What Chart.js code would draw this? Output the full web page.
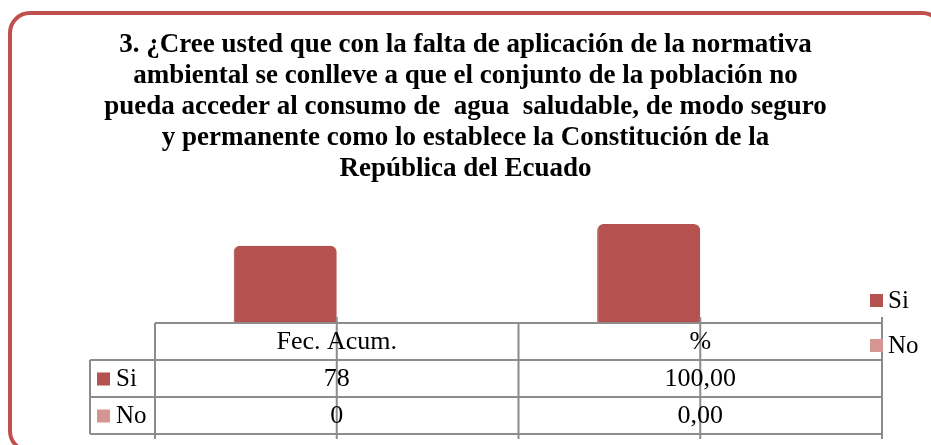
<!DOCTYPE html>
<html lang="es">
<head>
    <meta charset="UTF-8">
    <title>Gráfico 3</title>
    <script src="https://cdn.jsdelivr.net/npm/chart.js"></script>
    <style type="text/css">
        body{
            margin: 0;
            background: #fff;
        }
        .wrap{
            position: relative;
            width: 931px;
            height: 445px;
            overflow: hidden;
        }
        .frame{
            position: absolute;
            left: 8px;
            top: 11px;
            width: 936px;
            height: 442px;
            box-sizing: border-box;
            border: 4px solid #c0504d;
            border-radius: 22px;
            pointer-events: none;
        }
    </style>
</head>
<body>
    <div class="wrap">
        <canvas id="chart"></canvas>
        <div class="frame"></div>
    </div>

    <script>
        // datos de la pregunta 3
        const categories = ['Fec. Acum.', '%'];
        const seriesNames = ['Si', 'No'];
        const siValues = [78, 100];
        const noValues = [0, 0];
        const decimals = [0, 2]; // como aparece en la tabla
        const titleLines = [
            '3. ¿Cree usted que con la falta de aplicación de la normativa',
            'ambiental se conlleve a que el conjunto de la población no',
            'pueda acceder al consumo de  agua  saludable, de modo seguro',
            'y permanente como lo establece la Constitución de la',
            'República del Ecuado'
        ];
        const colors = ['#b5514e', '#d49593'];

        function fmt(v, d) {
            return v.toFixed(d).replace('.', ',');
        }

        const serif = 'Liberation Serif, Times New Roman, serif';

        // tabla de datos y leyenda dibujadas debajo del eje x
        const tablePlugin = {
            id: 'dataTable',
            afterDraw(chart) {
                const ctx = chart.ctx;
                const area = chart.chartArea;
                const x = chart.scales.x;
                const top = area.bottom;
                const rowH = 37;
                const labelLeft = 90;
                const bottom = top + rowH * 3;
                const rows = [siValues, noValues];

                ctx.save();
                ctx.strokeStyle = '#8c8c8c';
                ctx.lineWidth = 2;
                ctx.beginPath();
                ctx.moveTo(area.left, top);
                ctx.lineTo(area.right, top);
                for (let r = 1; r <= 3; r++) {
                    ctx.moveTo(labelLeft, top + rowH * r);
                    ctx.lineTo(area.right, top + rowH * r);
                }
                ctx.moveTo(labelLeft, top + rowH);
                ctx.lineTo(labelLeft, bottom);
                ctx.moveTo(area.left, top);
                ctx.lineTo(area.left, bottom + 5);
                ctx.moveTo(area.right, top - 6);
                ctx.lineTo(area.right, bottom + 5);
                for (let i = 0; i < categories.length; i++) {
                    const cx = x.getPixelForValue(i);
                    ctx.moveTo(cx, top - 6);
                    ctx.lineTo(cx, bottom + 5);
                    if (i > 0) {
                        const bx = (x.getPixelForValue(i - 1) + cx) / 2;
                        ctx.moveTo(bx, top);
                        ctx.lineTo(bx, bottom + 5);
                    }
                }
                ctx.stroke();

                ctx.fillStyle = '#000';
                ctx.font = '26px ' + serif;
                ctx.textAlign = 'center';
                ctx.textBaseline = 'middle';
                categories.forEach(function(c, i) {
                    ctx.fillText(c, x.getPixelForValue(i), top + rowH / 2 + 1);
                });
                rows.forEach(function(vals, r) {
                    vals.forEach(function(v, i) {
                        ctx.fillText(fmt(v, decimals[i]), x.getPixelForValue(i), top + rowH * (r + 1.5) + 1);
                    });
                });

                // claves de fila
                ctx.textAlign = 'left';
                ctx.font = '25px ' + serif;
                seriesNames.forEach(function(n, r) {
                    const cy = top + rowH * (r + 1.5);
                    ctx.fillStyle = colors[r];
                    ctx.fillRect(labelLeft + 7, cy - 6, 13, 13);
                    ctx.fillStyle = '#000';
                    ctx.fillText(n, labelLeft + 26, cy + 1);
                });

                // leyenda derecha
                seriesNames.forEach(function(n, r) {
                    const cy = 300 + r * 45;
                    ctx.fillStyle = colors[r];
                    ctx.fillRect(870, cy - 6, 13, 13);
                    ctx.fillStyle = '#000';
                    ctx.fillText(n, 888, cy + 1);
                });
                ctx.restore();
            }
        };

        const config = {
            type: 'bar',
            data: {
                labels: categories,
                datasets: [{
                    label: seriesNames[0],
                    data: siValues,
                    backgroundColor: colors[0],
                    borderColor: '#9c3f3c',
                    borderWidth: {left: 1, right: 0, top: 0, bottom: 0},
                    borderRadius: {topLeft: 6, topRight: 6},
                    borderSkipped: 'bottom'
                }, {
                    label: seriesNames[1],
                    data: noValues,
                    backgroundColor: colors[1]
                }]
            },
            options: {
                responsive: true,
                maintainAspectRatio: false,
                animation: false,
                layout: { padding: 0 },
                datasets: {
                    bar: { barPercentage: 1, categoryPercentage: 0.567 }
                },
                plugins: {
                    legend: { display: false },
                    tooltip: { enabled: false },
                    title: {
                        display: true,
                        text: titleLines,
                        color: '#000',
                        font: { family: serif, size: 27, weight: 'bold', lineHeight: '31px' },
                        padding: { top: 30, bottom: 39 }
                    }
                },
                scales: {
                    x: {
                        grid: { display: false },
                        border: { display: false },
                        ticks: { display: false },
                        afterFit: function(s) { s.height = 122; }
                    },
                    y: {
                        min: 0,
                        max: 100,
                        grid: { display: false },
                        border: { display: false },
                        ticks: { display: false },
                        afterFit: function(s) { s.width = 155; }
                    },
                    y2: {
                        position: 'right',
                        grid: { display: false },
                        border: { display: false },
                        ticks: { display: false },
                        afterFit: function(s) { s.width = 49; }
                    }
                }
            },
            plugins: [tablePlugin]
        };

        window.onload = function() {
            new Chart(document.getElementById('chart'), config);
        };
    </script>
</body>
</html>
